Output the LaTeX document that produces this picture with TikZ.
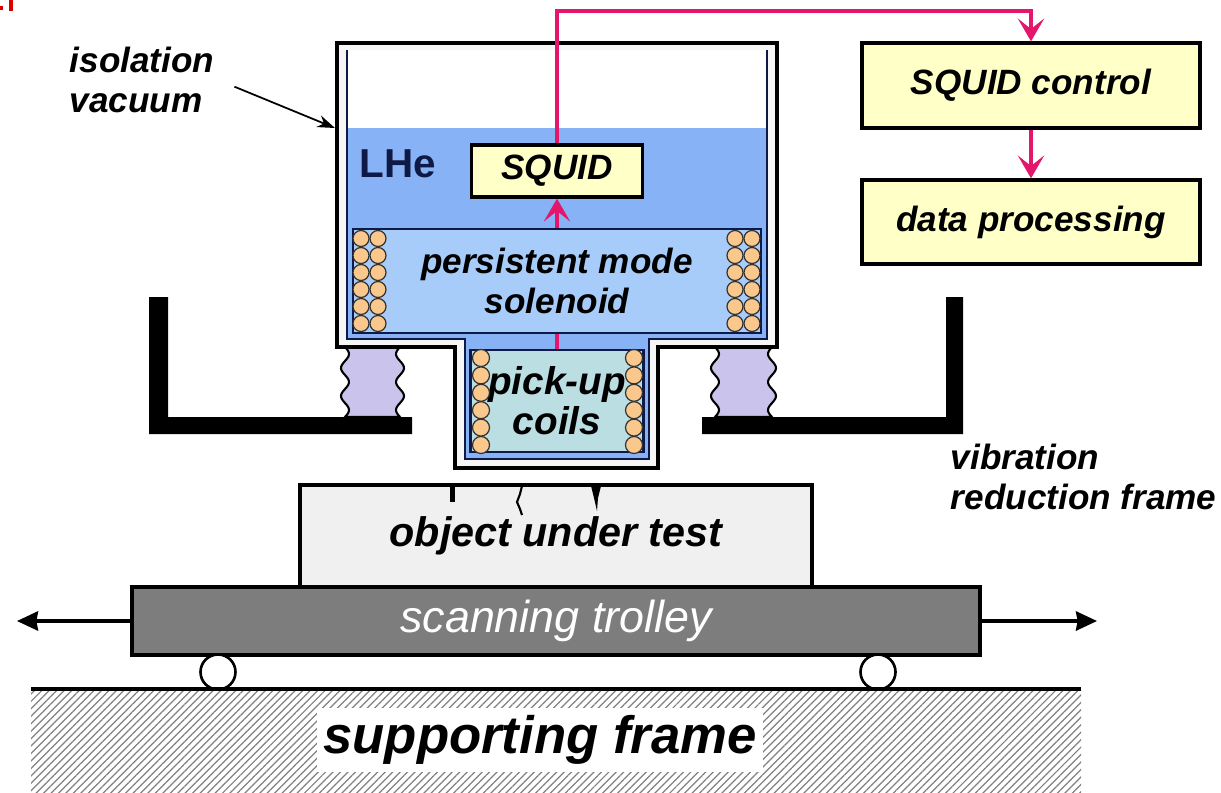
\documentclass[tikz,border=0pt]{standalone}
\usepackage{fontspec}
\setmainfont{Liberation Sans}
\usetikzlibrary{arrows.meta,patterns.meta}

\definecolor{lhe}{RGB}{135,178,245}
\definecolor{solblue}{RGB}{168,204,250}
\definecolor{pickteal}{RGB}{186,222,226}
\definecolor{navy}{RGB}{15,25,70}
\definecolor{coil}{RGB}{250,200,140}
\definecolor{bellow}{RGB}{202,196,236}
\definecolor{boxyellow}{RGB}{255,255,200}
\definecolor{sigred}{RGB}{228,22,108}
\definecolor{trolleygray}{RGB}{125,125,125}

\tikzset{
  lbl/.style={font=\fontsize{20}{22.7}\selectfont\bfseries\itshape, align=center},
  box/.style={draw, line width=1.9pt, fill=boxyellow, lbl, inner sep=0pt},
  coilbox/.style={draw=navy, line width=1.6pt, lbl, inner sep=0pt},
  turn/.style={draw=black!80, line width=0.7pt, fill=coil},
  sig/.style={draw=sigred, line width=2.3pt, -{Stealth[length=13pt,width=15pt,inset=6pt]}},
  bellows/.style={fill=bellow, draw=black, line width=1.2pt},
  move/.style={line width=1.8pt, -{Stealth[length=12pt,width=11pt,inset=1pt]}},
  wheel/.style={circle, draw, line width=1.5pt, fill=white, minimum size=0.7cm, inner sep=0pt},
}

\begin{document}
\begin{tikzpicture}[x=0.02cm, y=-0.02cm]
    \useasboundingbox (0,0) rectangle (1221,792);

    \fill[red!85!black] (0,6) rectangle (3,10);
    \fill[red!85!black] (9,0) rectangle (13,11);

    % bellows
    \filldraw[bellows] plot[domain=0:1,samples=40] ({345+4*sin(\x*900)},{347+70*\x})
        -- plot[domain=0:1,samples=40] ({400-4*sin((1-\x)*900)},{417-70*\x}) -- cycle;
    \filldraw[bellows] plot[domain=0:1,samples=40] ({715+4*sin(\x*900)},{347+70*\x})
        -- plot[domain=0:1,samples=40] ({772-4*sin((1-\x)*900)},{417-70*\x}) -- cycle;

    % vibration reduction frame
    \fill (149,297) -- (168,297) -- (168,417) -- (412,417) -- (412,434) -- (149,434) -- cycle;
    \fill (702,417) -- (946,417) -- (946,297) -- (963,297) -- (963,434) -- (702,434) -- cycle;

    % cryostat
    \filldraw[fill=gray!7, line width=2pt] (337,43) -- (777,43) -- (777,347) -- (658,347) -- (658,468)
        -- (455,468) -- (455,347) -- (337,347) -- cycle;
    \begin{scope}
        \clip (347,50) -- (767,50) -- (767,339) -- (649,339) -- (649,459) -- (465,459) -- (465,339) -- (347,339) -- cycle;
        \fill[white] (340,45) rectangle (775,128);
        \fill[lhe] (340,128) rectangle (775,465);
    \end{scope}
    \draw[line width=1pt, navy] (347,50) -- (347,339) -- (465,339) -- (465,459) -- (649,459)
        -- (649,339) -- (767,339) -- (767,50);

    \node[font=\fontsize{23}{26}\selectfont\bfseries, text=navy] (lhe) at (398,164) {LHe};

    % coils
    \node[coilbox, fill=solblue, minimum width=8.16cm, minimum height=2.08cm] (sol) at (557,281) {persistent mode\\solenoid};
    \foreach \cx in {361,378,735,752}
        \foreach \k in {0,...,5}
            \draw[turn] (\cx,{238.5+17*\k}) circle (0.16cm);

    \node[coilbox, fill=pickteal, minimum width=3.46cm, minimum height=2.04cm,
          font=\fontsize{22}{22.7}\selectfont\bfseries\itshape] (pick) at (557,401) {pick-up\\coils};
    \foreach \cx in {481,634}
        \foreach \k in {0,...,5}
            \draw[turn] (\cx,{358+17.4*\k}) circle (0.17cm);

    \node[box, minimum width=3.42cm, minimum height=1.04cm] (squid) at (557,171) {SQUID};

    % electronics
    \node[box, minimum width=6.76cm, minimum height=1.7cm] (ctrl) at (1031,85.5) {SQUID control};
    \node[box, minimum width=6.76cm, minimum height=1.68cm] (data) at (1031,222) {data processing};

    \coordinate (bend) at (1031,11);
    \draw[sig, -] (pick.north) -- (sol.south);
    \draw[sig] (sol.north) -- (squid.south);
    \draw[sig] (squid.north) |- (bend) -- (ctrl.north);
    \draw[sig] (ctrl) -- (data);

    % labels
    \node[lbl, align=left, anchor=west, inner sep=2pt] (isol) at (66,80) {isolation\\vacuum};
    \coordinate (wall) at (335,128);
    \draw[line width=1pt, -{Stealth[length=10pt,width=7pt]}, shorten <=10pt] (isol.east) -- (wall);
    \node[lbl, align=left, anchor=west, inner sep=2pt] (vibr) at (947,477) {vibration\\reduction frame};

    % object and trolley
    \node[draw, line width=1.9pt, fill=gray!12, minimum width=10.24cm, minimum height=2.04cm,
          font=\fontsize{23.5}{26}\selectfont\bfseries\itshape,
          path picture={
            \pgfmathsetseed{7}
            \foreach \i in {1,...,500}
                \fill[gray!40] ({300+512*rnd},{485+102*rnd}) circle (0.02cm);
          }] (obj) at (556,536) {object under test};
    \fill (450,486) rectangle (455,502);
    \draw[line width=1.2pt] (522,486) -- (520,494) -- (517,502) -- (520,509) -- (522,515);
    \fill (591,486) -- (601,486) -- (598,498) -- (597,511) -- (594,498) -- cycle;

    \node[draw, line width=1.9pt, fill=trolleygray, text=white, minimum width=16.96cm, minimum height=1.36cm,
          font=\fontsize{25.5}{28}\selectfont\itshape] (trolley) at (556,621) {scanning trolley};
    \coordinate (lend) at (17,621);
    \coordinate (rend) at (1097,621);
    \draw[move] (trolley.west) -- (lend);
    \draw[move] (trolley.east) -- (rend);

    \node[wheel] (wl) at (218,672) {};
    \node[wheel] (wr) at (878,672) {};

    % supporting frame
    \fill[pattern={Lines[angle=45,distance=3pt,line width=0.7pt]}, pattern color=gray] (31,689) rectangle (1081,792);
    \draw[line width=1.9pt] (31,689) -- (1081,689);
    \node[fill=white, minimum width=8.86cm, minimum height=1.28cm,
          font=\fontsize{30}{33}\selectfont\bfseries\itshape] (base) at (540,740) {supporting frame};
\end{tikzpicture}
\end{document}
